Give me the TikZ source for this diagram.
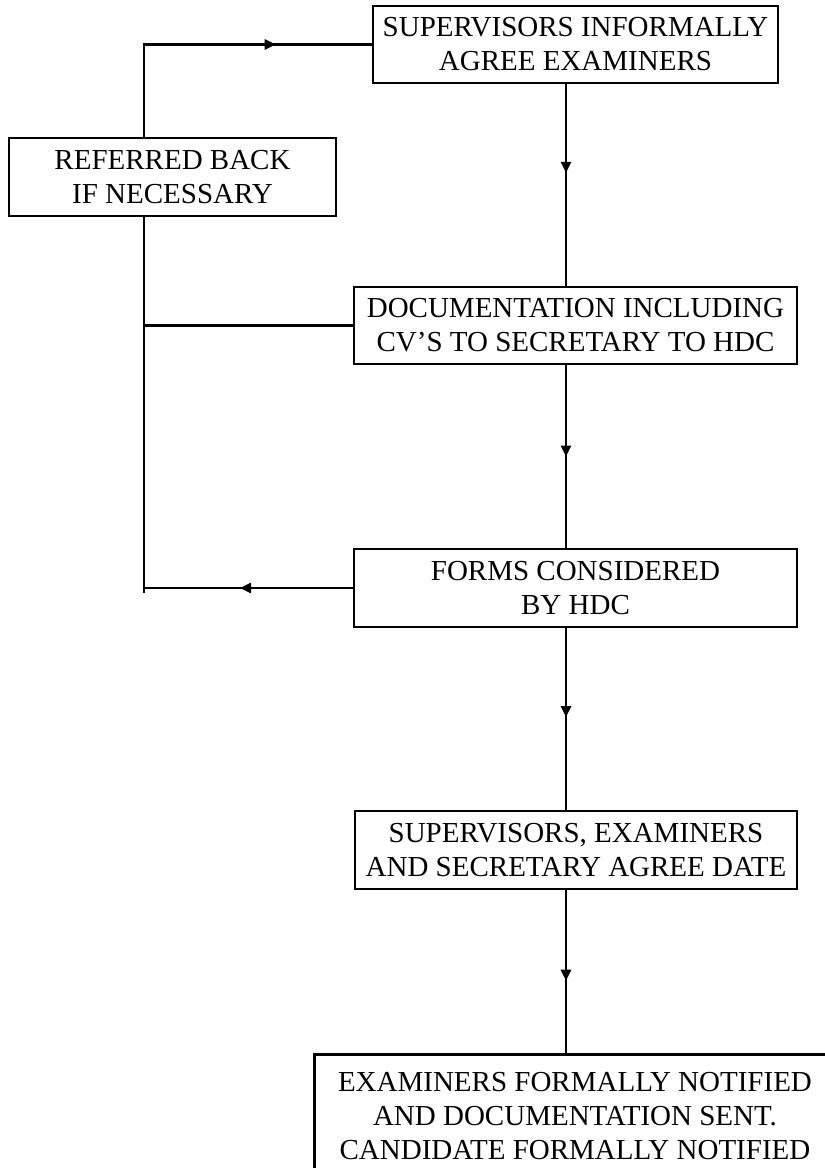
\documentclass[tikz,border=0pt]{standalone}
\usepackage{fontspec}
\setmainfont{Liberation Serif}
\usetikzlibrary{arrows.meta,decorations.markings}
\begin{document}
\begin{tikzpicture}[x=1pt,y=-1pt,
  box/.style={draw,line width=2.6pt,inner sep=0pt,align=center,font=\fontsize{29}{34}\selectfont},
  conn/.style={line width=2.6pt},
  midarr/.style={postaction={decorate},decoration={markings,mark=at position #1 with {\arrow{Triangle[width=10pt,length=11pt]}}}}
]
\useasboundingbox (0,0) rectangle (825,1168);
\node[box,minimum width=405pt,minimum height=77pt] (top) at (575.5,44.5) {SUPERVISORS INFORMALLY\\AGREE EXAMINERS};
\node[box,minimum width=327pt,minimum height=78pt] (ref) at (172.5,177) {REFERRED BACK\\IF NECESSARY};
\node[box,minimum width=443pt,minimum height=77pt] (doc) at (575.5,325.5) {DOCUMENTATION INCLUDING\\CV’S TO SECRETARY TO HDC};
\node[box,minimum width=443pt,minimum height=78pt] (forms) at (575.5,588) {FORMS CONSIDERED\\BY HDC};
\node[box,minimum width=442pt,minimum height=78pt] (se) at (576,850) {SUPERVISORS, EXAMINERS\\AND SECRETARY AGREE DATE};
\node[box,draw=none,minimum width=518pt,minimum height=120pt] (bot) at (575,1116) {EXAMINERS FORMALLY NOTIFIED\\AND DOCUMENTATION SENT.\\CANDIDATE FORMALLY NOTIFIED};
\draw[line width=2.6pt] ([yshift=-150pt]bot.north west) -- (bot.north west) -- ([xshift=40pt]bot.north east);
\coordinate (vx) at (566,0);
\coordinate (L) at (144,0);
% main vertical flow
\draw[conn,midarr=0.44] (top.south -| vx) -- (doc.north -| vx);
\draw[conn,midarr=0.5] (doc.south -| vx) -- (forms.north -| vx);
\draw[conn,midarr=0.49] (forms.south -| vx) -- (se.north -| vx);
\draw[conn,midarr=0.55] (se.south -| vx) -- (bot.north -| vx);
% feedback loop
\draw[conn,midarr=0.70] (ref.north -| L) |- (top.west);
\draw[conn] (ref.south -| L) -- (L |- forms.west) -- ++(0,5);
\draw[conn] (L |- doc.west) -- (doc.west);
\draw[conn,midarr=0.54] (forms.west) -- (forms.west -| L);
\end{tikzpicture}
\end{document}
